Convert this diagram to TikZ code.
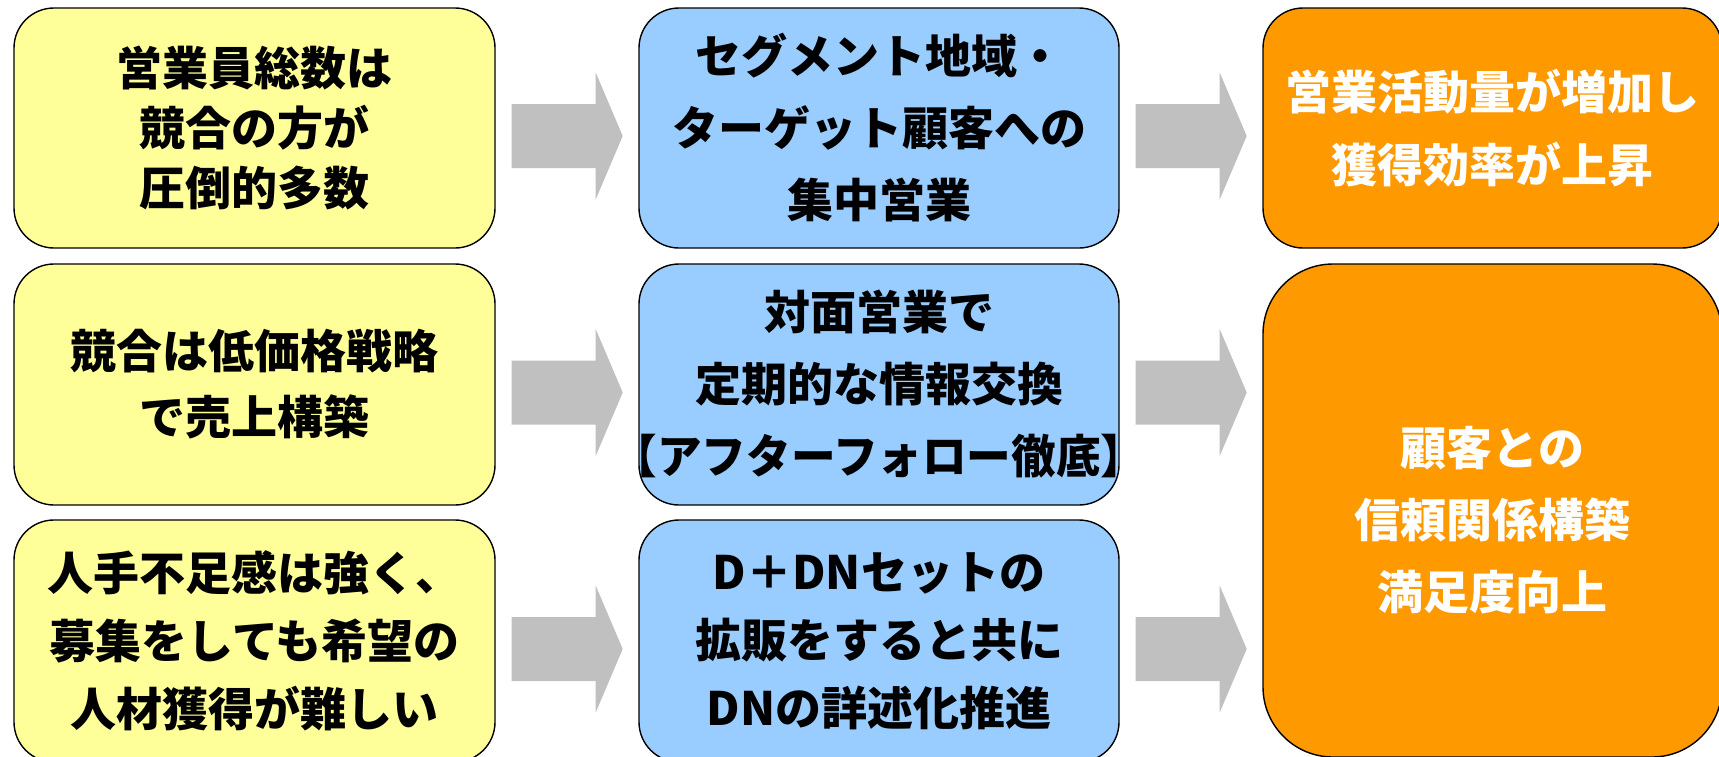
\documentclass[tikz,border=0pt]{standalone}
\usepackage{fontspec}
\usepackage{graphicx}
\setmainfont{Noto Sans CJK JP}
\definecolor{ylw}{HTML}{FFFF99}
\definecolor{blu}{HTML}{99CCFF}
\definecolor{org}{HTML}{FF9900}
\definecolor{arrowgray}{HTML}{C0C0C0}
\tikzset{
  basebox/.style={draw=black, line width=1.4pt, align=center, inner sep=0pt,
    font=\bfseries},
  ybox/.style={basebox, fill=ylw, text=black, rounded corners=40pt,
    minimum width=481pt},
  bbox/.style={basebox, fill=blu, text=black, rounded corners=40pt,
    minimum width=480pt},
  obox/.style={basebox, fill=org, text=white, minimum width=459pt},
  otext/.style={align=center, inner sep=0pt, text=white},
  ls/.style={font=\bfseries\fontsize{46pt}{#1pt}\selectfont},
}
\newcommand\grayarrow[1]{%
  \path ([xshift=16pt,yshift=-8pt]#1.east) coordinate (tmp);
  \fill[arrowgray] ([yshift=32pt]tmp) -- ++(84pt,0pt) -- ++(0pt,31.5pt)
    -- ++(27pt,-63.5pt) -- ++(-27pt,-63.5pt) -- ++(0pt,31.5pt)
    -- ++(-84pt,0pt) -- cycle;}
\begin{document}
\begin{tikzpicture}[x=1pt,y=-1pt]
\useasboundingbox (0,0) rectangle (1719,756);
\clip (0,0) rectangle (1719,756);
% column 1
\node[ybox, ls=60, minimum height=240pt] (y1) at (254.5,128)
  {営業員総数は\\競合の方が\\圧倒的多数};
\node[ybox, ls=66, minimum height=241pt] (y2) at (254.5,384.5)
  {競合は低価格戦略\\で売上構築};
\node[ybox, ls=68, minimum height=242pt] (y3) at (254.5,641)
  {人手不足感は強く、\\募集をしても希望の\\人材獲得が難しい};
% column 2
\node[bbox, ls=72, minimum height=240pt] (b1) at (879,128)
  {セグメント地域・\\ターゲット顧客への\\集中営業};
\node[bbox, ls=72, minimum height=241pt] (b2) at (879,384.5)
  {対面営業で\\定期的な情報交換\\\makebox[0pt]{\scalebox{0.97}[1]{【アフターフォロー徹底】}}};
\node[bbox, ls=68, minimum height=242pt] (b3) at (879,641)
  {D＋DNセットの\\拡販をすると共に\\DNの詳述化推進};
% column 3
\node[obox, ls=73, rounded corners=40pt, minimum height=240pt] (o1) at (1492.5,128)
  {営業活動量が増加し\\獲得効率が上昇};
\node[obox, rounded corners=70pt, minimum height=493pt] (o2) at (1492.5,510.5) {};
\node[otext, ls=72] (o2t) at ([yshift=-10pt]o2.center)
  {顧客との\\信頼関係構築\\満足度向上};
% arrows
\grayarrow{y1}
\grayarrow{y2}
\grayarrow{y3}
\grayarrow{b1}
\grayarrow{b2}
\grayarrow{b3}
\end{tikzpicture}
\end{document}
